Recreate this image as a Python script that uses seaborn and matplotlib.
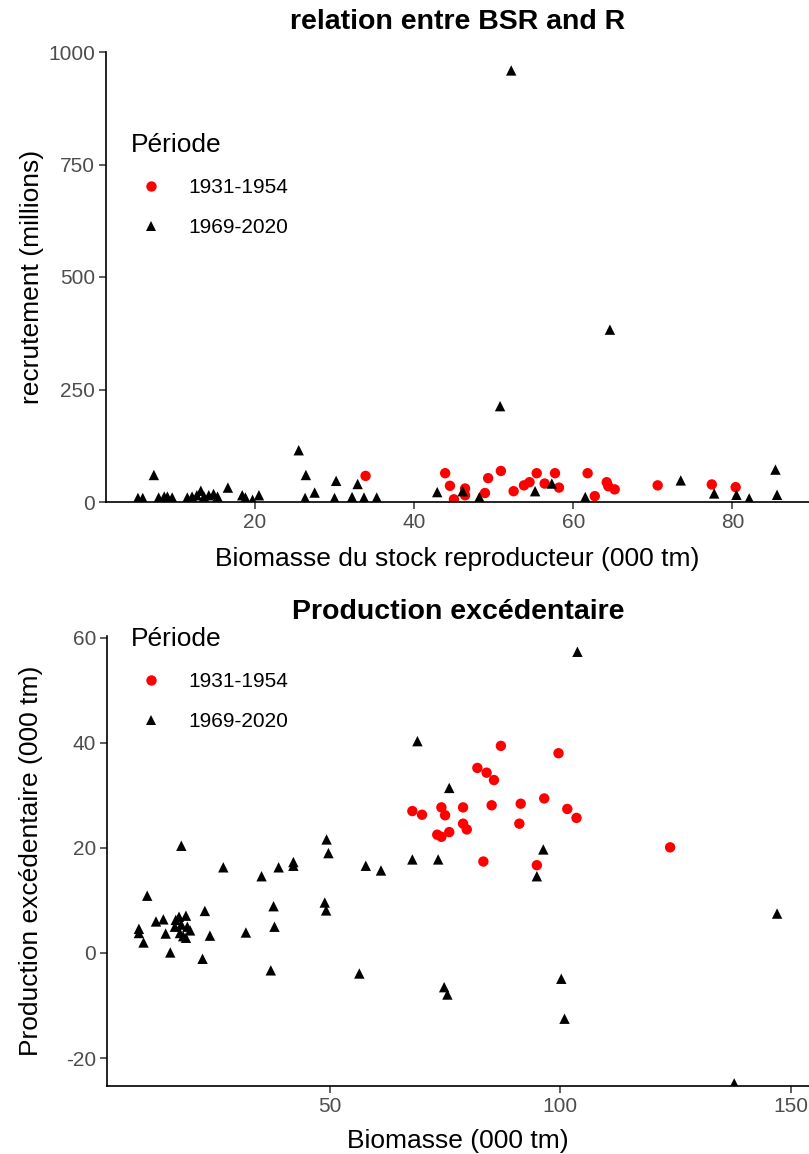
import numpy as np
import pandas as pd
import matplotlib
matplotlib.use("Agg")
import matplotlib.pyplot as plt
import seaborn as sns

sns.set_theme(style="ticks")
plt.rcParams['font.family'] = ['Liberation Sans', 'DejaVu Sans']
plt.rcParams['axes.unicode_minus'] = False
plt.rcParams['text.color'] = 'black'
plt.rcParams['axes.labelcolor'] = 'black'

# --- données : relation BSR / recrutement ---
periodes = ["1931-1954", "1969-2020"]

bsr_1931 = [33.9, 43.9, 44.5, 45.0, 46.4, 46.4, 48.9, 49.3, 50.9, 52.5, 53.8, 54.5,
            55.4, 56.4, 57.7, 58.2, 61.8, 62.7, 64.2, 64.4, 65.2, 70.6, 77.4, 80.4]
rec_1931 = [58, 64, 36, 6, 30, 15, 20, 53, 69, 24, 37, 44,
            64, 41, 64, 32, 64, 13, 44, 35, 28, 37, 39, 33]

bsr_1969 = [5.3, 5.9, 7.3, 7.9, 8.6, 9.0, 9.6, 11.5, 12.1, 12.7, 13.2, 13.6, 14.2,
            14.8, 15.3, 16.6, 18.4, 18.8, 19.7, 20.5, 25.5, 26.4, 26.3, 27.5, 30.2,
            30.0, 32.2, 32.9, 33.7, 35.3, 42.9, 46.1, 48.2, 50.8, 52.2, 55.2, 57.3,
            61.5, 64.6, 73.5, 77.7, 80.5, 82.1, 85.4, 85.6]
rec_1969 = [9, 9, 60, 10, 12, 12, 10, 10, 12, 15, 25, 12, 15,
            18, 12, 32, 15, 10, 5, 15, 115, 60, 9, 21, 47,
            9, 11, 40, 10, 10, 22, 24, 11, 213, 959, 24, 41,
            11, 383, 48, 19, 16, 8, 72, 16]

# --- données : production excédentaire ---
biom_1931 = [87.1, 99.6, 82.0, 84.0, 85.6, 67.9, 70.0, 74.2, 75.0, 78.9, 85.1, 91.4,
             96.5, 101.5, 103.5, 78.9, 79.7, 73.3, 74.2, 75.9, 91.1, 83.3, 94.9, 123.8]
prod_1931 = [39.4, 38.0, 35.2, 34.3, 32.9, 27.0, 26.3, 27.7, 26.2, 27.7, 28.1, 28.4,
             29.4, 27.4, 25.7, 24.6, 23.5, 22.5, 22.1, 23.0, 24.6, 17.4, 16.7, 20.1]

biom_1969 = [17.8, 49.3, 49.7, 26.9, 35.2, 38.9, 42.1, 42.1, 57.8, 61.1, 10.4, 22.9,
             37.8, 48.9, 49.2, 12.3, 13.9, 8.6, 8.6, 9.6, 14.4, 15.4, 22.4, 24.0,
             31.8, 38.0, 37.2, 56.4, 16.6, 17.3, 18.8, 16.4, 17.8, 19.1, 19.7, 18.2,
             17.5, 18.8, 74.8, 75.5, 100.2, 100.9, 147.0, 137.7, 69.0, 75.9, 67.9,
             73.5, 96.3, 94.9, 103.7]
prod_1969 = [20.4, 21.6, 19.0, 16.3, 14.6, 16.3, 17.3, 16.6, 16.6, 15.7, 10.9, 8.0,
             8.9, 9.6, 8.1, 6.0, 6.4, 4.6, 3.8, 2.0, 3.7, 0.1, -1.1, 3.3,
             3.9, 5.0, -3.3, -3.9, 6.3, 6.9, 7.1, 5.0, 5.4, 5.0, 4.3, 3.2,
             3.8, 2.9, -6.5, -7.9, -4.9, -12.5, 7.5, -24.8, 40.3, 31.4, 17.8,
             17.8, 19.7, 14.6, 57.3]

df_sr = pd.DataFrame({
    "bsr": bsr_1931 + bsr_1969,
    "rec": rec_1931 + rec_1969,
    "Période": [periodes[0]] * len(bsr_1931) + [periodes[1]] * len(bsr_1969),
})
df_pe = pd.DataFrame({
    "biom": biom_1931 + biom_1969,
    "prod": prod_1931 + prod_1969,
    "Période": [periodes[0]] * len(biom_1931) + [periodes[1]] * len(biom_1969),
})

pal = {"1931-1954": "red", "1969-2020": "black"}
mk = {"1931-1954": "o", "1969-2020": "^"}

W, H = 809, 1154
fig = plt.figure(figsize=(W / 100, H / 100), dpi=100)
ax1 = fig.add_axes([106 / W, 1 - 502 / H, (809 - 106) / W, 450 / H])
ax2 = fig.add_axes([107 / W, 1 - 1086 / H, (809 - 107) / W, 450 / H])

grey_txt = "#4D4D4D"


def style_axis(ax):
    for side in ["top", "right"]:
        ax.spines[side].set_visible(False)
    for side in ["left", "bottom"]:
        ax.spines[side].set_color("black")
        ax.spines[side].set_linewidth(1.2)
    ax.tick_params(axis="both", length=5, width=1.1, color="#333333",
                   labelcolor=grey_txt, labelsize=15, pad=3)


def place_legend(ax, x_px, y_px):
    handles, labels = ax.get_legend_handles_labels()
    leg = ax.legend(handles, labels, title="Période", loc="upper left",
                    bbox_to_anchor=(x_px / W, 1 - y_px / H),
                    bbox_transform=fig.transFigure, frameon=False,
                    fontsize=15, title_fontsize=19, borderpad=0,
                    handlelength=2.0, handletextpad=0.8, labelspacing=1.0,
                    markerscale=1.0)
    leg._legend_box.align = "left"
    return leg


# --- panneau du haut ---
sns.scatterplot(data=df_sr, x="bsr", y="rec", hue="Période", style="Période",
                palette=pal, markers=mk, s=56, linewidth=0, ax=ax1)
ax1.set_ylim(0, 1000)
ax1.set_yticks([0, 250, 500, 750, 1000])
ax1.set_xticks([20, 40, 60, 80])
ax1.set_xlabel("Biomasse du stock reproducteur (000 tm)", fontsize=19, labelpad=11)
ax1.set_ylabel("recrutement (millions)", fontsize=19)
ax1.yaxis.set_label_coords(-0.088, 0.5)
style_axis(ax1)
place_legend(ax1, 120, 123)
fig.text((106 + 809) / 2 / W, 1 - 22 / H, "relation entre BSR and R",
         ha="center", va="center", fontsize=20.5, fontweight="bold")

# --- panneau du bas ---
sns.scatterplot(data=df_pe, x="biom", y="prod", hue="Période", style="Période",
                palette=pal, markers=mk, s=56, linewidth=0, ax=ax2)
ax2.set_ylim(-25.3, 60.3)
ax2.set_yticks([-20, 0, 20, 40, 60])
ax2.set_xticks([50, 100, 150])
ax2.set_xlabel("Biomasse (000 tm)", fontsize=19, labelpad=9)
ax2.set_ylabel("Production excédentaire (000 tm)", fontsize=19)
ax2.yaxis.set_label_coords(-0.091, 0.5)
style_axis(ax2)
place_legend(ax2, 120, 617)
fig.text((107 + 809) / 2 / W, 1 - 612 / H, "Production excédentaire",
         ha="center", va="center", fontsize=20.5, fontweight="bold")

fig.savefig("out.png", dpi=100)
